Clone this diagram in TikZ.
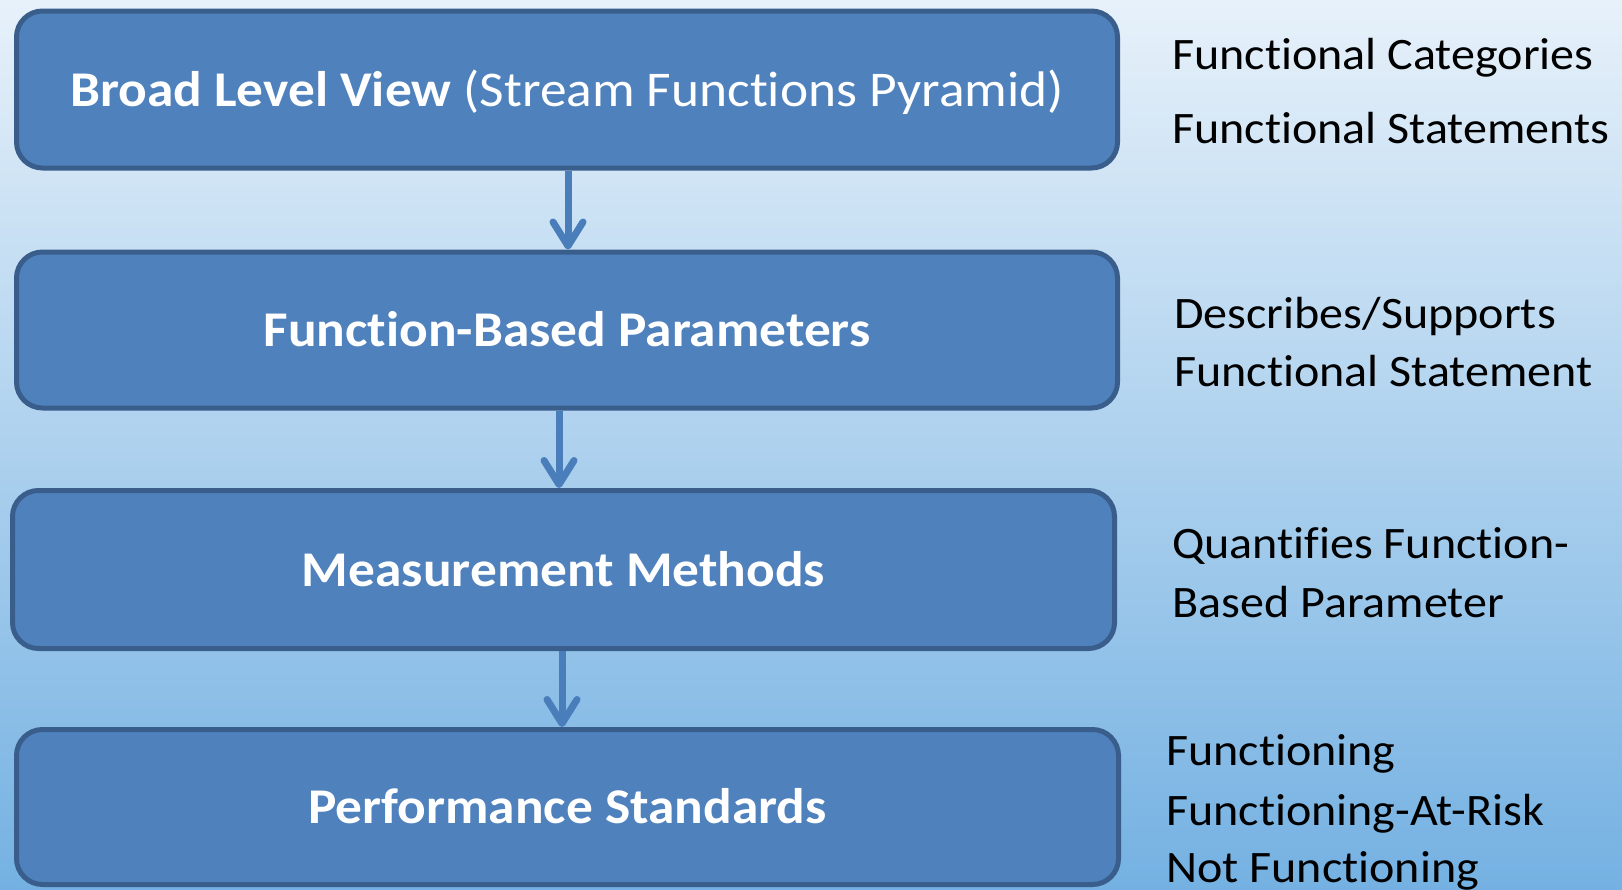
\documentclass[tikz,border=0pt]{standalone}
\usepackage{fontspec}
\setmainfont{Carlito}[FakeStretch=1.068, Ligatures=NoCommon]
\usetikzlibrary{arrows.meta}

\definecolor{bgtop}{RGB}{231,241,250}
\definecolor{bgbot}{RGB}{116,177,226}
\definecolor{boxfill}{RGB}{79,129,189}
\definecolor{boxline}{RGB}{58,94,140}
\definecolor{arrowcol}{RGB}{74,126,187}

\tikzset{
  stage/.style={draw=boxline, fill=boxfill, line width=5pt, rounded corners=26pt,
    inner sep=0pt, text=white, font=\fontsize{50}{60}\selectfont,
    text height=33pt, text depth=0pt},
  note/.style={anchor=base west, inner sep=0pt, text=black,
    font=\fontsize{45}{54}\selectfont},
  flow/.style={draw=arrowcol, line width=7pt,
    -{Straight Barb[length=24pt, width=30pt, round]}},
}

\begin{document}
\begin{tikzpicture}[x=1pt, y=-1pt]
  % page frame with vertical background gradient
  \shade[top color=bgtop, bottom color=bgbot] (0,0) rectangle (1622,889);
  \useasboundingbox (0,0) rectangle (1622,889);

  % stage boxes
  \node[stage, minimum width=1101pt, minimum height=157pt] (b1) at (567,89.5)
    {\textbf{Broad Level View} (Stream Functions Pyramid)};
  \node[stage, minimum width=1101pt, minimum height=156pt] (b2) at (567,330)
    {\textbf{Function-Based Parameters}};
  \node[stage, minimum width=1102pt, minimum height=158pt] (b3) at (563.5,569.5)
    {\textbf{Measurement Methods}};
  \node[stage, minimum width=1102pt, minimum height=155pt] (b4) at (567.5,807)
    {\textbf{Performance Standards}};

  % arrow columns
  \coordinate (c1) at (568,0);
  \coordinate (c2) at (559,0);
  \coordinate (c3) at (562,0);
  \draw[flow] (b1.south -| c1) -- (b2.north -| c1);
  \draw[flow] (b2.south -| c2) -- (b3.north -| c2);
  \draw[flow] (b3.south -| c3) -- (b4.north -| c3);

  % side notes
  \node[note] (n1a) at (1172,69)  {Functional Categories};
  \node[note] (n1b) at (1172,143) {Functional Statements};
  \node[note] (n2a) at (1174,328) {Describes/Supports};
  \node[note] (n2b) at (1174,386) {Functional Statement};
  \node[note] (n3a) at (1172,558) {Quantifies Function-};
  \node[note] (n3b) at (1172,617) {Based Parameter};
  \node[note] (n4a) at (1166,765) {Functioning};
  \node[note] (n4b) at (1166,825) {Functioning-At-Risk};
  \node[note] (n4c) at (1166,882) {Not Functioning};
\end{tikzpicture}
\end{document}
